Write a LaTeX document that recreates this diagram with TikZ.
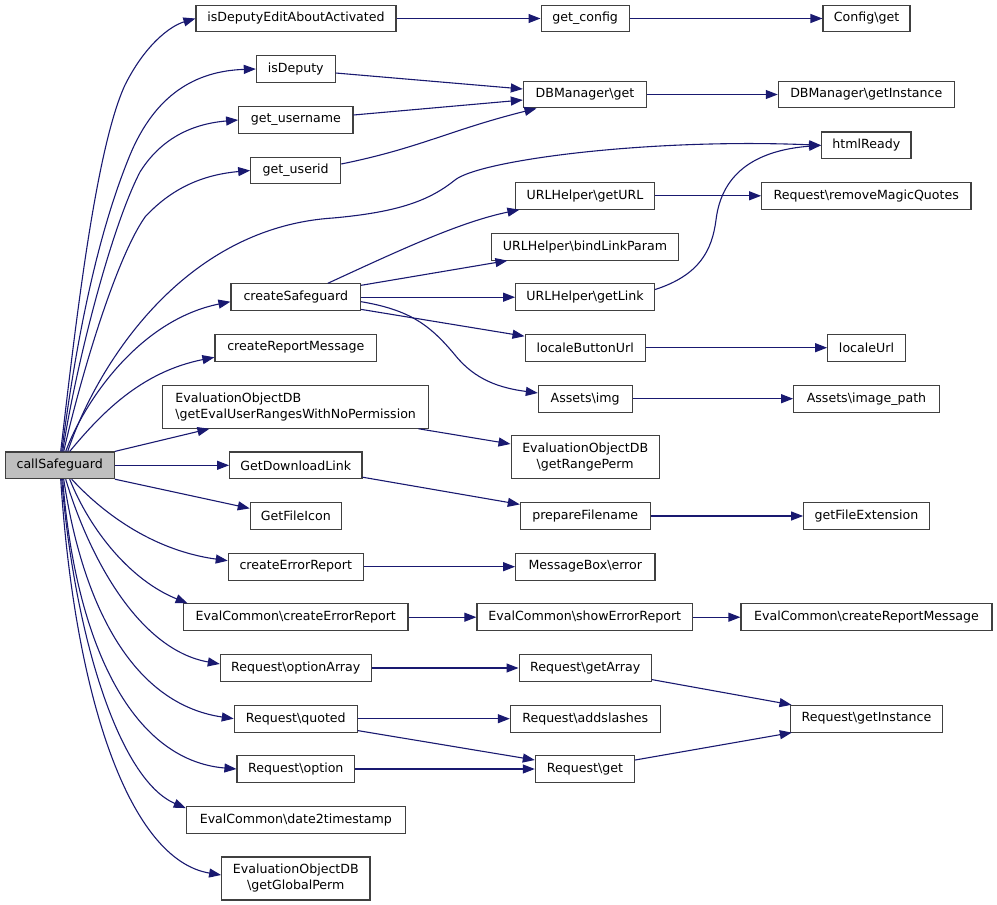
\documentclass[tikz,border=0pt]{standalone}
\usepackage{fontspec}
\setmainfont{DejaVu Sans}
\usetikzlibrary{arrows.meta}
\definecolor{edgeblue}{HTML}{191970}
\definecolor{boxline}{HTML}{404040}
\definecolor{grayfill}{HTML}{BFBFBF}
\tikzset{
  box/.style={draw=boxline, line width=1.1pt, fill=white, inner sep=0pt,
    minimum height=26.7pt, font=\fontsize{12.6}{16}\selectfont},
  tallbox/.style={box, minimum height=43pt},
  edge/.style={draw=edgeblue, line width=1.1pt, -{Triangle[length=12pt,width=9pt]}}
}
\begin{document}
\begin{tikzpicture}[x=1pt,y=-1pt]
\useasboundingbox (0,0) rectangle (997,905);
% root
\node[box, fill=grayfill, minimum width=109.3pt] (cs) at (59.7,465.3) {callSafeguard};
% column 1
\node[box, minimum width=200pt]   (n1)  at (296,18.5)   {isDeputyEditAboutActivated};
\node[box, minimum width=78.7pt]  (n2)  at (295.7,69)   {isDeputy};
\node[box, minimum width=114.3pt] (n3)  at (295.8,120)  {get\_username};
\node[box, minimum width=90pt]    (n4)  at (295.7,170.5){get\_userid};
\node[box, minimum width=129.7pt] (n5)  at (295.8,297.2){createSafeguard};
\node[box, minimum width=161.7pt] (n6)  at (295.8,347.7){createReportMessage};
\node[tallbox, minimum width=266pt, align=left] (n7) at (295.7,406.7) {EvaluationObjectDB\\\textbackslash getEvalUserRangesWithNoPermission};
\node[box, minimum width=132.3pt] (n8)  at (295.8,465.3){GetDownloadLink};
\node[box, minimum width=91pt]    (n9)  at (295.8,516)  {GetFileIcon};
\node[box, minimum width=135pt]   (n10) at (295.8,566.7){createErrorReport};
\node[box, minimum width=224.3pt] (n11) at (295.8,617.2){EvalCommon\textbackslash createErrorReport};
\node[box, minimum width=150.7pt] (n12) at (295.7,668)  {Request\textbackslash optionArray};
\node[box, minimum width=123pt]   (n13) at (295.8,718.7){Request\textbackslash quoted};
\node[box, minimum width=117.7pt] (n14) at (295.8,769)  {Request\textbackslash option};
\node[box, minimum width=219pt]   (n15) at (295.8,820)  {EvalCommon\textbackslash date2timestamp};
\node[tallbox, minimum width=148.3pt, align=center] (n16) at (295.8,878.5) {EvaluationObjectDB\\\textbackslash getGlobalPerm};
% column 2
\node[box, minimum width=88.3pt]  (m1)  at (585.2,18.5) {get\_config};
\node[box, minimum width=123.3pt] (m2)  at (585,94.5)   {DBManager\textbackslash get};
\node[box, minimum width=138.7pt] (m3)  at (585,195.8)  {URLHelper\textbackslash getURL};
\node[box, minimum width=186.7pt] (m4)  at (585,246.7)  {URLHelper\textbackslash bindLinkParam};
\node[box, minimum width=138.7pt] (m5)  at (585,297.2)  {URLHelper\textbackslash getLink};
\node[box, minimum width=120.3pt] (m6)  at (585.2,347.7){localeButtonUrl};
\node[box, minimum width=93.7pt]  (m7)  at (585.2,398.7){Assets\textbackslash img};
\node[tallbox, minimum width=148.3pt, align=center] (m8) at (585.2,457.2) {EvaluationObjectDB\\\textbackslash getRangePerm};
\node[box, minimum width=129.7pt] (m9)  at (585.2,516)  {prepareFilename};
\node[box, minimum width=139.3pt] (m10) at (585.3,566.7){MessageBox\textbackslash error};
\node[box, minimum width=215.7pt] (m11) at (584.8,617.2){EvalCommon\textbackslash showErrorReport};
\node[box, minimum width=132.3pt] (m12) at (585.2,668)  {Request\textbackslash getArray};
\node[box, minimum width=149.7pt] (m13) at (585.2,718.7){Request\textbackslash addslashes};
\node[box, minimum width=99.3pt]  (m14) at (585,769)    {Request\textbackslash get};
% column 3
\node[box, minimum width=87pt]    (r1) at (866.5,18.5)  {Config\textbackslash get};
\node[box, minimum width=176pt]   (r2) at (866.3,94.5)  {DBManager\textbackslash getInstance};
\node[box, minimum width=89.3pt]  (r3) at (866.3,145.3) {htmlReady};
\node[box, minimum width=209.3pt] (r4) at (866.3,195.8) {Request\textbackslash removeMagicQuotes};
\node[box, minimum width=77.7pt]  (r5) at (866.5,347.7) {localeUrl};
\node[box, minimum width=145.7pt] (r6) at (866.5,398.7) {Assets\textbackslash image\_path};
\node[box, minimum width=125.7pt] (r7) at (866.5,516)   {getFileExtension};
\node[box, minimum width=251pt]   (r8) at (866.5,617.2) {EvalCommon\textbackslash createReportMessage};
\node[box, minimum width=152.3pt] (r9) at (866.5,718.7) {Request\textbackslash getInstance};

% edges from callSafeguard (upwards)
\draw[edge] ([xshift=1pt]cs.north) .. controls (75,330) and (95,150) .. (125,85) .. controls (145,45) and (170,26) .. (n1.west);
\draw[edge] ([xshift=2pt]cs.north) .. controls (75,350) and (95,240) .. (130,155) .. controls (155,95) and (195,71) .. (n2.west);
\draw[edge] ([xshift=3pt]cs.north) .. controls (75,370) and (110,230) .. (140,172) .. controls (160,140) and (190,124) .. (n3.west);
\draw[edge] ([xshift=4pt]cs.north) .. controls (80,380) and (115,260) .. (145,217) .. controls (170,190) and (200,175) .. (n4.west);
\draw[edge] ([xshift=8pt]cs.north) .. controls (95,370) and (180,228) .. (333,218) .. controls (400,212) and (430,200) .. (455,180) .. controls (480,160) and (650,138) .. (r3.west);
\draw[edge] ([xshift=6pt]cs.north) .. controls (85,400) and (140,320) .. ([yshift=-4.5pt]n5.west);
\draw[edge] ([xshift=10pt]cs.north) .. controls (100,415) and (140,372) .. ([yshift=-9.6pt]n6.west);
\draw[edge] (cs.north east) -- ([xshift=47.3pt]n7.south west);
\draw[edge] (cs.east) -- (n8.west);
\draw[edge] (cs.south east) -- ([yshift=-6.3pt]n9.north west);
% edges from callSafeguard (downwards)
\draw[edge] ([xshift=12pt]cs.south) .. controls (100,510) and (150,550) .. ([yshift=6pt]n10.west);
\draw[edge] ([xshift=10pt]cs.south) .. controls (90,530) and (130,580) .. ([xshift=4.5pt]n11.north west);
\draw[edge] ([xshift=6pt]cs.south) .. controls (90,560) and (140,650) .. ([yshift=4pt]n12.west);
\draw[edge] ([xshift=4pt]cs.south) .. controls (85,620) and (140,705) .. (n13.west);
\draw[edge] ([xshift=3pt]cs.south) .. controls (75,640) and (130,760) .. (n14.west);
\draw[edge] ([xshift=2pt]cs.south) .. controls (75,640) and (120,780) .. ([yshift=-2pt]n15.north west);
\draw[edge] ([xshift=1pt]cs.south) .. controls (75,700) and (130,860) .. ([yshift=3.5pt]n16.west);

% column 1 -> column 2
\draw[edge] (n1.east) -- (m1.west);
\draw[edge] ([yshift=-4pt]n2.east) -- ([yshift=5.5pt]m2.west);
\draw[edge] ([yshift=5pt]n3.east) -- ([yshift=-5.5pt]m2.west);
\draw[edge] ([yshift=6.5pt]n4.east) .. controls (420,148) and (450,130) .. ([xshift=13.7pt]m2.south west);
\draw[edge] ([xshift=32pt]n5.north) .. controls (400,250) and (460,222) .. ([xshift=4.3pt]m3.south west);
\draw[edge] ([yshift=-2pt]n5.north east) -- ([xshift=16.3pt]m4.south west);
\draw[edge] (n5.east) -- (m5.west);
\draw[edge] ([yshift=1.7pt]n5.south east) -- ([yshift=-2.4pt]m6.north west);
\draw[edge] ([yshift=-4.5pt]n5.east) .. controls (410,310) and (430,325) .. (455,355) .. controls (475,380) and (500,388) .. ([yshift=5.7pt]m7.west);
\draw[edge] ([xshift=-10.7pt]n7.south east) -- ([yshift=13.2pt]m8.west);
\draw[edge] ([yshift=2pt]n8.south east) -- ([yshift=-2.3pt]m9.north west);
\draw[edge] (n10.east) -- (m10.west);
\draw[edge] (n11.east) -- (m11.west);
\draw[edge] (n12.east) -- (m12.west);
\draw[edge] (n13.east) -- (m13.west);
\draw[edge] ([yshift=2pt]n13.south east) -- ([yshift=9pt]m14.west);
\draw[edge] (n14.east) -- (m14.west);

% column 2 -> column 3
\draw[edge] (m1.east) -- (r1.west);
\draw[edge] (m2.east) -- (r2.west);
\draw[edge] (m3.east) -- (r4.west);
\draw[edge] ([yshift=-6.3pt]m5.north east) .. controls (700,275) and (712,250) .. (716,220) .. controls (722,170) and (760,150) .. (r3.west);
\draw[edge] (m6.east) -- (r5.west);
\draw[edge] (m7.east) -- (r6.west);
\draw[edge] (m9.east) -- (r7.west);
\draw[edge] (m11.east) -- (r8.west);
\draw[edge] ([yshift=2.3pt]m12.south east) -- ([xshift=1.7pt]r9.north west);
\draw[edge] ([yshift=9pt]m14.east) -- ([xshift=2pt]r9.south west);
\end{tikzpicture}
\end{document}
